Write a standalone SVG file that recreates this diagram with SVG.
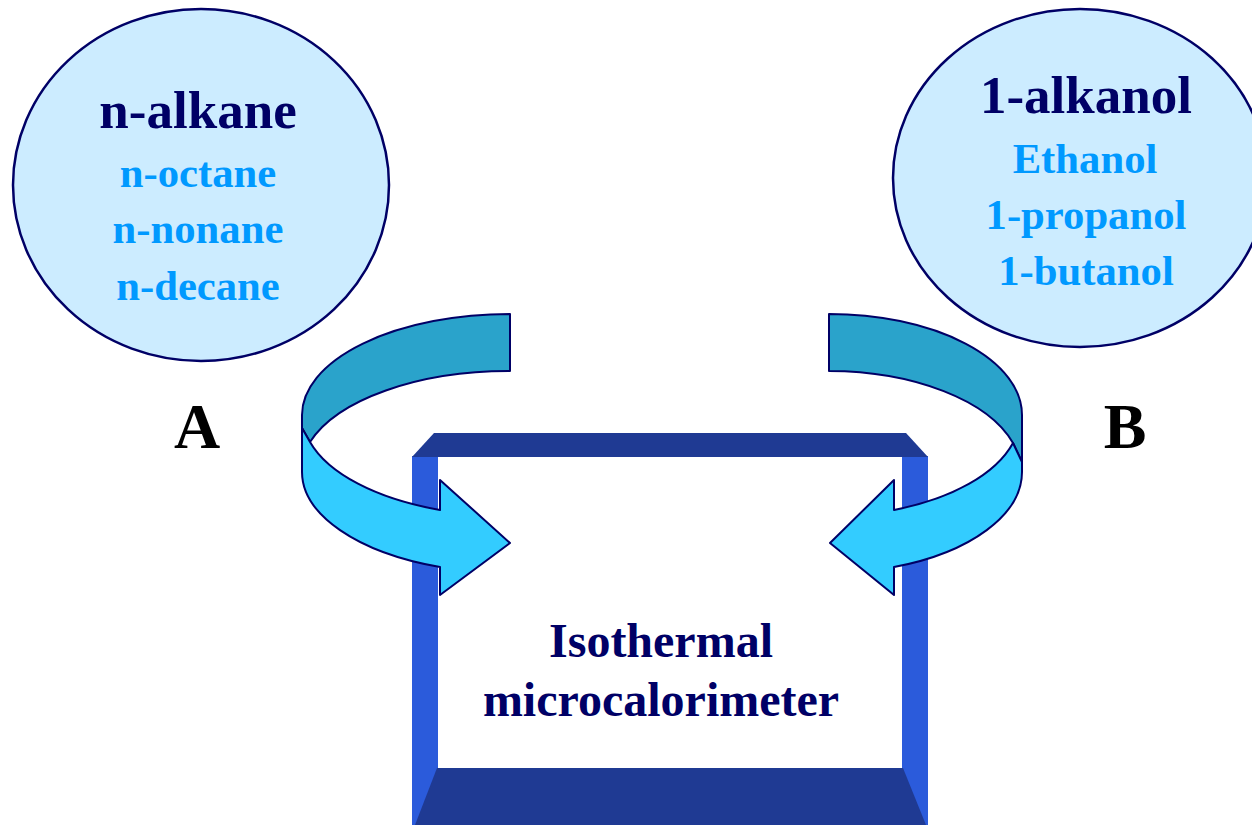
<svg xmlns="http://www.w3.org/2000/svg" width="1252" height="825" viewBox="0 0 1252 825">
  <style>
    .bubble { fill: #CCECFF; stroke: #000066; stroke-width: 2.5; }
    .title { font-family: "Liberation Serif", "Times New Roman", serif; font-weight: bold; font-size: 53px; fill: #000066; text-anchor: middle; }
    .item { font-family: "Liberation Serif", "Times New Roman", serif; font-weight: bold; font-size: 42.7px; fill: #0099FF; text-anchor: middle; }
    .tag { font-family: "Liberation Serif", "Times New Roman", serif; font-weight: bold; font-size: 64px; fill: #000000; text-anchor: middle; }
    .inst { font-family: "Liberation Serif", "Times New Roman", serif; font-weight: bold; font-size: 48px; fill: #000066; text-anchor: middle; }
    .edge { fill: #1F3A93; }
    .side { fill: #2B5BDB; }
    .back { fill: #2AA3CB; stroke: #000066; stroke-width: 2; stroke-linejoin: round; }
    .front { fill: #33CCFF; stroke: #000066; stroke-width: 2; stroke-linejoin: round; }
  </style>

  <rect width="1252" height="825" fill="#FFFFFF"/>

  <!-- component A -->
  <g id="alkane">
    <ellipse class="bubble" cx="201" cy="185" rx="188" ry="176"/>
    <text class="title" x="198" y="128">n-alkane</text>
    <text class="item" x="198" y="187">n-octane</text>
    <text class="item" x="198" y="243">n-nonane</text>
    <text class="item" x="198" y="300">n-decane</text>
  </g>

  <!-- component B -->
  <g id="alkanol">
    <ellipse class="bubble" cx="1080" cy="178" rx="187" ry="169"/>
    <text class="title" x="1086" y="113">1-alkanol</text>
    <text class="item" x="1085" y="173">Ethanol</text>
    <text class="item" x="1086" y="229">1-propanol</text>
    <text class="item" x="1086" y="285">1-butanol</text>
  </g>

  <g id="label-a">
    <text class="tag" x="197" y="448">A</text>
  </g>
  <g id="label-b">
    <text class="tag" x="1125" y="448">B</text>
  </g>

  <!-- calorimeter seen as an open box -->
  <g id="calorimeter">
    <rect x="437" y="457" width="466" height="312" fill="#FFFFFF"/>
    <rect class="side" x="412" y="456" width="26" height="369"/>
    <rect class="side" x="902" y="456" width="26" height="369"/>
    <polygon class="edge" points="412,457 434,433 906,433 928,457"/>
    <polygon class="edge" points="437,768 903,768 926,825 415,825"/>
    <text class="inst" x="661" y="657">Isothermal</text>
    <text class="inst" x="661" y="716">microcalorimeter</text>
  </g>

  <!-- curved feed arrows -->
  <g id="connectors">
    <g id="arrow-a">
      <path class="back" d="M510,314 A208,101 0 0 0 302,415 L302,428 L310,442 A208,101 0 0 1 510,371 Z"/>
      <path class="front" d="M310,442 A208,101 0 0 0 440,510 L440,480 L510,543 L440,595 L440,567 A208,101 0 0 1 302,472 L302,428 Z"/>
    </g>
    <g id="arrow-b">
      <path class="back" d="M829,314 A193,101 0 0 1 1022,415 L1022,462 L1013,443 A193,101 0 0 0 829,371 Z"/>
      <path class="front" d="M1013,443 A193,101 0 0 1 894,510 L894,480 L830,543 L894,595 L894,567 A193,101 0 0 0 1022,472 L1022,462 Z"/>
    </g>
  </g>
</svg>
